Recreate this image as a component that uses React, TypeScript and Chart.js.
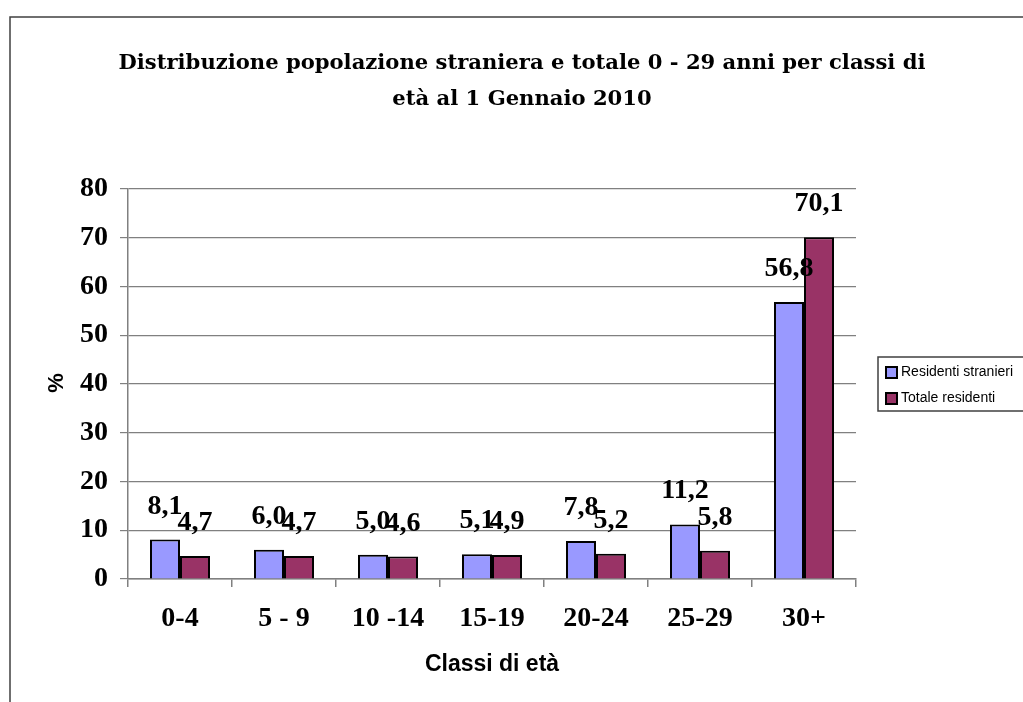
import React, { useEffect, useRef } from "react";
import { Chart, registerables } from "chart.js";

Chart.register(...registerables);

const categories = ["0-4", "5 - 9", "10 -14", "15-19", "20-24", "25-29", "30+"];
const stranieri = [8.1, 6.0, 5.0, 5.1, 7.8, 11.2, 56.8];
const totale = [4.7, 4.7, 4.6, 4.9, 5.2, 5.8, 70.1];
const seriesNames = ["Residenti stranieri", "Totale residenti"];
const titleLines = [
  "Distribuzione popolazione straniera e totale 0 - 29 anni per classi di",
  "età al 1 Gennaio 2010",
];
const xTitle = "Classi di età";
const yTitle = "%";

const SERIF = "'Liberation Serif', 'Times New Roman', serif";
const TITLE_SERIF = "'DejaVu Serif', serif";
const SANS = "'Liberation Sans', Arial, sans-serif";

const fmt = (v: number) => v.toFixed(1).replace(".", ",");

const decor = {
  id: "decor",
  afterDraw(chart: any) {
    const ctx = chart.ctx;
    ctx.save();
    // outer frame
    ctx.strokeStyle = "#404040";
    ctx.lineWidth = 1.5;
    ctx.beginPath();
    ctx.moveTo(10, 702);
    ctx.lineTo(10, 17);
    ctx.lineTo(1023, 17);
    ctx.stroke();

    // title (fitted to the reference width)
    ctx.fillStyle = "#000";
    ctx.font = `bold 20px ${TITLE_SERIF}`;
    const w0 = ctx.measureText(titleLines[0]).width;
    const size = (20 * 807) / w0;
    ctx.font = `bold ${size.toFixed(2)}px ${TITLE_SERIF}`;
    ctx.textAlign = "center";
    ctx.textBaseline = "alphabetic";
    ctx.fillText(titleLines[0], 522, 69);
    ctx.fillText(titleLines[1], 522, 105);

    // data labels
    ctx.font = `bold 28px ${SERIF}`;
    chart.data.datasets.forEach((ds: any, i: number) => {
      const meta = chart.getDatasetMeta(i);
      meta.data.forEach((bar: any, j: number) => {
        ctx.fillText(fmt(ds.data[j]), bar.x, bar.y - 26);
      });
    });

    // axis titles
    ctx.font = `bold 23px ${SANS}`;
    ctx.fillText(xTitle, 492, 671);
    ctx.save();
    ctx.translate(57, 383);
    ctx.rotate(-Math.PI / 2);
    ctx.textBaseline = "middle";
    ctx.font = `bold 22px ${SANS}`;
    ctx.fillText(yTitle, 0, 0);
    ctx.restore();

    // legend
    ctx.strokeStyle = "#404040";
    ctx.lineWidth = 1.5;
    ctx.beginPath();
    ctx.moveTo(1023, 357);
    ctx.lineTo(878, 357);
    ctx.lineTo(878, 411);
    ctx.lineTo(1023, 411);
    ctx.stroke();
    ctx.textAlign = "left";
    ctx.textBaseline = "middle";
    ctx.font = `14px ${SANS}`;
    chart.data.datasets.forEach((ds: any, i: number) => {
      const y = 372.5 + i * 26;
      ctx.fillStyle = ds.backgroundColor;
      ctx.fillRect(886, y - 5.5, 11, 11);
      ctx.strokeStyle = "#000";
      ctx.lineWidth = 2;
      ctx.strokeRect(886, y - 5.5, 11, 11);
      ctx.fillStyle = "#000";
      ctx.fillText(ds.label, 901, y);
    });
    ctx.restore();
  },
};

export default function App() {
  const ref = useRef<HTMLCanvasElement>(null);
  useEffect(() => {
    if (!ref.current) return;
    const chart = new Chart(ref.current, {
      type: "bar",
      data: {
        labels: categories,
        datasets: [
          {
            label: seriesNames[0],
            data: stranieri,
            backgroundColor: "#9999FF",
            borderColor: "#000",
            borderWidth: 2,
            categoryPercentage: 0.577,
            barPercentage: 1,
          },
          {
            label: seriesNames[1],
            data: totale,
            backgroundColor: "#993366",
            borderColor: "#000",
            borderWidth: 2,
            categoryPercentage: 0.577,
            barPercentage: 1,
          },
        ],
      },
      options: {
        animation: false,
        responsive: false,
        maintainAspectRatio: false,
        layout: { padding: { top: 189, right: 167, bottom: 0, left: 0 } },
        plugins: {
          legend: { display: false },
          title: { display: false },
          tooltip: { enabled: false },
        },
        scales: {
          x: {
            grid: {
              offset: true,
              drawOnChartArea: false,
              tickLength: 8,
              color: "#808080",
              lineWidth: 1.5,
            },
            border: { color: "#808080", width: 1.5 },
            ticks: {
              color: "#000",
              font: { family: SERIF, size: 28, weight: "bold" },
              padding: 15,
              maxRotation: 0,
            },
            afterFit: (s: any) => {
              s.height = 123;
            },
          },
          y: {
            min: 0,
            max: 80,
            ticks: {
              stepSize: 10,
              color: "#000",
              font: { family: SERIF, size: 28, weight: "bold" },
              padding: 12,
            },
            grid: { color: "#808080", tickLength: 8, lineWidth: 1.2 },
            border: { color: "#808080", width: 1.5 },
            afterFit: (s: any) => {
              s.width = 128;
            },
          },
        },
      },
      plugins: [decor],
    });
    return () => chart.destroy();
  }, []);
  return (
    <div style={{ position: "fixed", left: 0, top: 0, width: 1023, height: 702, background: "#fff" }}>
      <canvas ref={ref} width={1023} height={702} style={{ width: 1023, height: 702, display: "block" }} />
    </div>
  );
}
